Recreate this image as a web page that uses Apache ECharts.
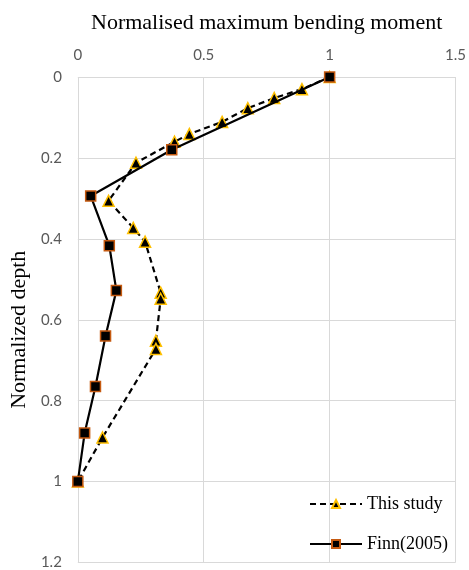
<!DOCTYPE html>
<html>
<head>
<meta charset="utf-8">
<script src="https://cdn.jsdelivr.net/npm/echarts@6/dist/echarts.min.js"></script>
<style>
  html, body { margin: 0; padding: 0; background: #fff; }
  #chart { width: 469px; height: 570px; }
</style>
</head>
<body>
<div id="chart"></div>
<script>
// Normalised maximum bending moment (x) against normalised depth (y)
const thisStudyMoment = [1, 0.89, 0.78, 0.675, 0.573, 0.443, 0.384, 0.231, 0.122, 0.22, 0.267, 0.329, 0.329, 0.31, 0.31, 0.098, 0];
const thisStudyDepth  = [0, 0.03, 0.052, 0.077, 0.111, 0.141, 0.16, 0.212, 0.306, 0.373, 0.407, 0.533, 0.548, 0.652, 0.672, 0.891, 1];

const finnMoment = [1, 0.373, 0.051, 0.125, 0.153, 0.11, 0.07, 0.027, 0];
const finnDepth  = [0, 0.18, 0.294, 0.417, 0.528, 0.64, 0.765, 0.88, 1];

const seriesNames = ['This study', 'Finn(2005)'];

const pairs = (xs, ys) => xs.map((x, i) => [x, ys[i]]);

const tickFont = { fontFamily: 'Lato', fontSize: 15, color: '#595959' };
const serif = 'Liberation Serif';

const chart = echarts.init(document.getElementById('chart'), null, { renderer: 'canvas' });
chart.setOption({
  animation: false,
  backgroundColor: '#fff',
  grid: { left: 74, right: 12, top: 77, bottom: 7 },
  xAxis: {
    type: 'value',
    position: 'top',
    min: 0, max: 1.5, interval: 0.5,
    name: 'Normalised maximum bending moment',
    nameLocation: 'middle',
    nameGap: 43,
    nameTextStyle: { fontFamily: serif, fontSize: 22, color: '#000' },
    axisLine: { show: false },
    axisTick: { show: false },
    axisLabel: Object.assign({ margin: 14 }, tickFont),
    splitLine: { show: true, lineStyle: { color: '#d9d9d9', width: 1 } }
  },
  yAxis: {
    type: 'value',
    inverse: true,
    min: 0, max: 1.2, interval: 0.2,
    name: 'Normalized depth',
    nameLocation: 'middle',
    nameGap: 43,
    nameTextStyle: { fontFamily: serif, fontSize: 22, color: '#000', padding: [0, 20, 0, 0] },
    axisLine: { show: false },
    axisTick: { show: false },
    axisLabel: Object.assign({ margin: 16 }, tickFont),
    splitLine: { show: true, lineStyle: { color: '#d9d9d9', width: 1 } }
  },
  legend: {
    orient: 'vertical',
    left: 304,
    top: 490,
    itemWidth: 52,
    itemHeight: 10,
    itemGap: 22,
    textStyle: { fontFamily: serif, fontSize: 18, color: '#000' },
    data: seriesNames
  },
  series: [
    {
      name: seriesNames[0],
      type: 'line',
      data: pairs(thisStudyMoment, thisStudyDepth),
      symbol: 'triangle',
      symbolSize: 11,
      lineStyle: { color: '#000', width: 2.2, type: [6, 4] },
      itemStyle: { color: '#000', borderColor: '#FFC000', borderWidth: 1.5 },
      z: 2
    },
    {
      name: seriesNames[1],
      type: 'line',
      data: pairs(finnMoment, finnDepth),
      symbol: 'rect',
      symbolSize: 10,
      lineStyle: { color: '#000', width: 2.2 },
      itemStyle: { color: '#000', borderColor: '#C55A11', borderWidth: 1.5 },
      z: 3
    }
  ]
});
</script>
</body>
</html>
